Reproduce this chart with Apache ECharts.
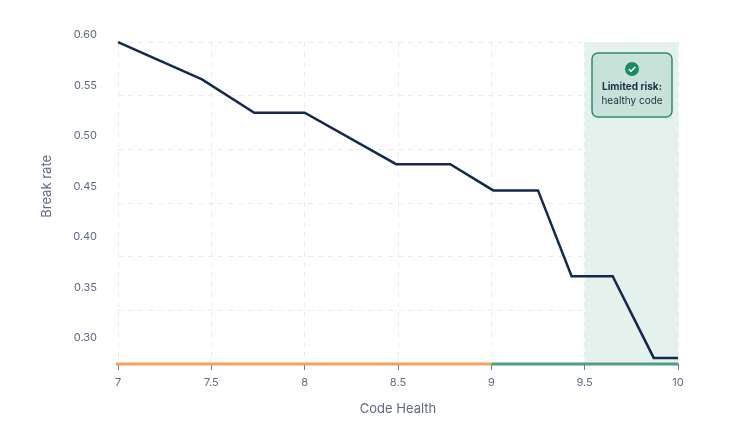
<!DOCTYPE html>
<html>
<head>
<meta charset="utf-8">
<script src="https://cdn.jsdelivr.net/npm/echarts@6/dist/echarts.min.js"></script>
<style>
html,body{margin:0;padding:0;background:#fff;}
#c{width:734px;height:426px;}
</style>
</head>
<body>
<div id="c"></div>
<script>
// ---- data ----
const codeHealth = [7.0, 7.45, 7.73, 8.0, 8.49, 8.78, 9.01, 9.25, 9.43, 9.65, 9.87, 10.0];
const breakRate  = [0.593, 0.556, 0.523, 0.523, 0.472, 0.472, 0.446, 0.446, 0.361, 0.361, 0.280, 0.280];
const yTickLabels = [0.30, 0.35, 0.40, 0.45, 0.50, 0.55, 0.60];
const xTickLabels = [7, 7.5, 8, 8.5, 9, 9.5, 10];
const riskZone = [6.96, 9];      // unhealthy band on the axis
const healthyZone = [9, 10];     // healthy band on the axis
const limitedRiskZone = [9.5, 10];
const annotationLines = ['Limited risk:', 'healthy code'];

const FONT = 'Inter, "Noto Sans", sans-serif';
const LABEL_COLOR = '#5d6984';

const chart = echarts.init(document.getElementById('c'), null, {renderer: 'canvas'});

const option = {
  animation: false,
  backgroundColor: '#ffffff',
  grid: [
    {left: 118, right: 56, top: 35, bottom: 88.3},
    {left: 118, right: 56, top: 42, bottom: 62}
  ],
  xAxis: [
    {gridIndex: 0, type: 'value', min: 7, max: 10, show: false},
    {
      gridIndex: 1, type: 'value', min: 7, max: 10, interval: 0.5,
      name: 'Code Health', nameLocation: 'middle', nameGap: 39,
      nameTextStyle: {color: LABEL_COLOR, fontSize: 13, fontFamily: FONT},
      axisLine: {show: false},
      axisTick: {show: true, length: 6, lineStyle: {color: '#6b7590', width: 1}},
      axisLabel: {
        color: LABEL_COLOR, fontSize: 11, fontFamily: FONT, margin: 13,
        formatter: v => xTickLabels.indexOf(v) >= 0 ? String(v) : ''
      },
      splitLine: {show: true, lineStyle: {color: '#ebebef', type: [5, 5], width: 1}}
    }
  ],
  yAxis: [
    {
      gridIndex: 0, type: 'value', min: yTickLabels[0], max: yTickLabels[yTickLabels.length - 1], interval: 0.05,
      name: 'Break rate', nameLocation: 'middle', nameGap: 64, nameRotate: 90,
      nameTextStyle: {color: LABEL_COLOR, fontSize: 13, fontFamily: FONT},
      axisLine: {show: false}, axisTick: {show: false},
      splitLine: {show: false},
      axisLabel: {color: LABEL_COLOR, fontSize: 11, fontFamily: FONT, margin: 21, formatter: v => v.toFixed(2)}
    },
    {
      gridIndex: 1, type: 'value', min: 0, max: 6, interval: 1,
      axisLine: {show: false}, axisTick: {show: false}, axisLabel: {show: false},
      splitLine: {show: true, lineStyle: {color: '#ebebef', type: [5, 5], width: 1}}
    }
  ],
  series: [
    {
      name: 'Healthy zone', type: 'line', xAxisIndex: 1, yAxisIndex: 1,
      data: healthyZone.map(x => [x, 0]), symbol: 'none', clip: false, z: 4,
      lineStyle: {color: '#4f9e84', width: 3},
      markArea: {
        silent: true,
        itemStyle: {color: '#e4f1ec'},
        data: [[{xAxis: limitedRiskZone[0]}, {xAxis: limitedRiskZone[1]}]]
      }
    },
    {
      name: 'Risk zone', type: 'line', xAxisIndex: 1, yAxisIndex: 1,
      data: riskZone.map(x => [x, 0]), symbol: 'none', clip: false, z: 4,
      lineStyle: {color: '#f6a25e', width: 3}
    },
    {
      name: 'Break rate', type: 'line', xAxisIndex: 0, yAxisIndex: 0,
      data: codeHealth.map((x, i) => [x, breakRate[i]]),
      symbol: 'none', clip: false, z: 5,
      lineStyle: {color: '#132a4e', width: 2.5, join: 'miter'}
    }
  ],
  graphic: {
    elements: [
      {type: 'rect', x: 592, y: 53, z: 100, shape: {x: 0, y: 0, width: 80, height: 64, r: 6},
       style: {fill: '#c7e3d9', stroke: '#2f8c6c', lineWidth: 1.5}},
      {type: 'circle', x: 592, y: 53, z: 101, shape: {cx: 40, cy: 16, r: 7}, style: {fill: '#1c8a63'}},
      {type: 'polyline', x: 592, y: 53, z: 102, shape: {points: [[36.8, 16.2], [39, 18.3], [43.3, 13.9]]},
       style: {stroke: '#ffffff', lineWidth: 1.5, fill: 'none'}},
      {type: 'text', x: 632, y: 87, z: 102, style: {text: annotationLines[0], align: 'center', verticalAlign: 'middle',
        fontSize: 10, fontWeight: 'bold', fontFamily: FONT, fill: '#1f2b48'}},
      {type: 'text', x: 632, y: 101, z: 102, style: {text: annotationLines[1], align: 'center', verticalAlign: 'middle',
        fontSize: 10, fontFamily: FONT, fill: '#1f2b48'}}
    ]
  }
};
chart.setOption(option);
</script>
</body>
</html>
